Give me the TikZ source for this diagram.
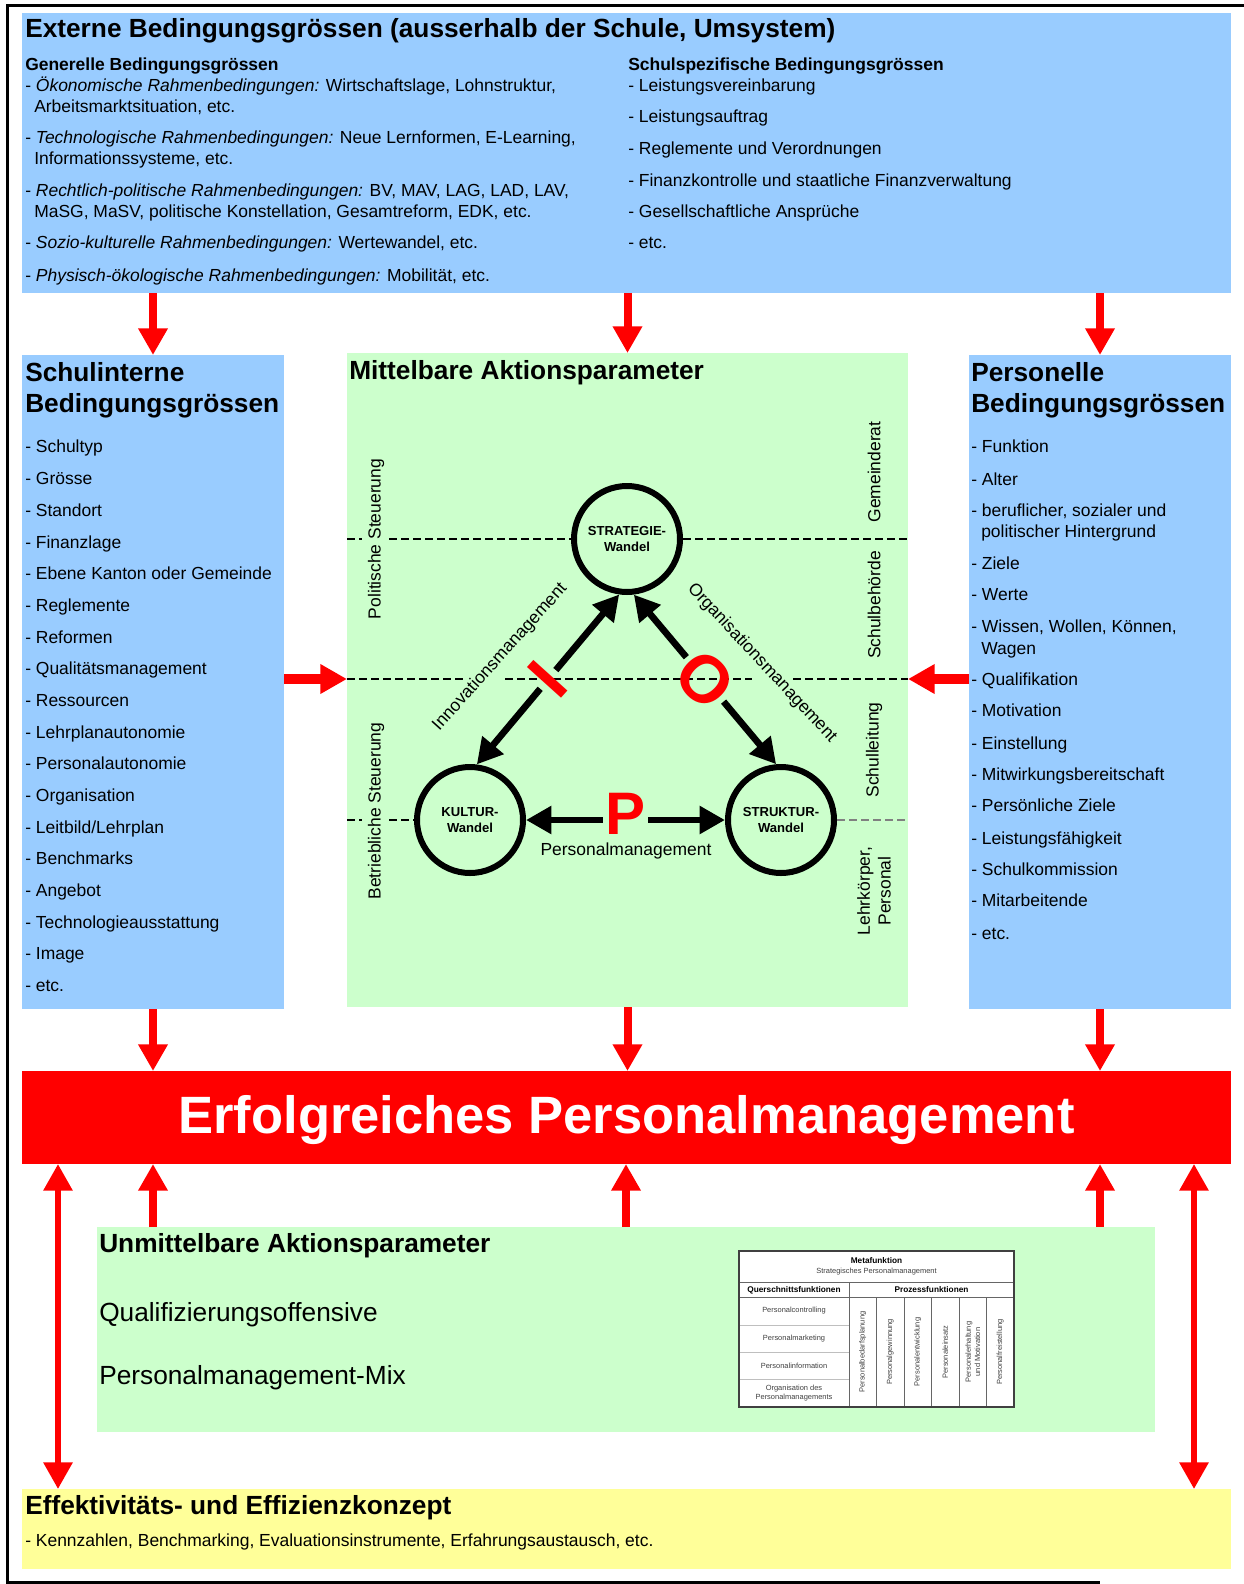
\documentclass[tikz,border=0pt]{standalone}
\usepackage{fontspec}
\setmainfont{Liberation Sans}
\usetikzlibrary{arrows.meta,fit,calc}
\definecolor{bblue}{HTML}{99CCFF}
\definecolor{bgreen}{HTML}{CCFFCC}
\definecolor{byellow}{HTML}{FFFF99}
\definecolor{bred}{HTML}{FF0000}
\newcommand\myhead{\fontsize{19.7pt}{23pt}\selectfont\bfseries}
\newcommand\myheadr{\fontsize{19.7pt}{23pt}\selectfont}
\newcommand\mybody{\fontsize{13.1pt}{15.7pt}\selectfont}
\newcommand\mybodyb{\fontsize{13.1pt}{15.7pt}\selectfont\bfseries}
\newcommand\mycirc{\fontsize{9.8pt}{12pt}\selectfont\bfseries}
\newcommand\myletter{\fontsize{50pt}{50pt}\selectfont\bfseries}
\newcommand\myletterp{\fontsize{45pt}{45pt}\selectfont\bfseries}
\newcommand\mybig{\fontsize{39.4pt}{45pt}\selectfont\bfseries}
\newcommand\mytiny{\fontsize{5.6pt}{7pt}\selectfont}
\newcommand\mytinyb{\fontsize{6.2pt}{7pt}\selectfont\bfseries}
\begin{document}
\begin{tikzpicture}[x=0.75pt,y=-0.75pt,
  area/.style={inner sep=0pt,outer sep=0pt},
  tb/.style={anchor=base west,inner sep=0pt,font=\mybody,yshift=-4.7pt},
  tbb/.style={tb,font=\mybodyb},
  th/.style={anchor=base west,inner sep=0pt,font=\myhead,yshift=-7pt},
  redarr/.style={draw=bred,line width=6pt,-{Triangle[length=20pt,width=21pt]}},
  reddbl/.style={draw=bred,line width=4.5pt,{Triangle[length=20pt,width=21pt]}-{Triangle[length=20pt,width=21pt]}},
  blkarr/.style={line width=5pt,-{Triangle[length=19pt,width=20pt]}},
  wandel/.style={circle,draw,line width=4.5pt,minimum size=79.5pt,inner sep=0pt,font=\mycirc,align=center},
  dl/.style={line width=1.5pt,dash pattern=on 6pt off 3pt},
  vlab/.style={rotate=90,font=\mybody,inner sep=0pt,align=center},
  letter/.style={text=bred,font=\myletter,inner sep=2pt},
  tt/.style={font=\mytiny,text=black!75,inner sep=0pt,align=center},
  ttb/.style={font=\mytinyb,inner sep=0pt,align=center}
]
\useasboundingbox (0,0) rectangle (1244,1584);
\fill[white] (0,0) rectangle (1244,1584);
\draw[line width=2.25pt] (1244,6) -- (7,6) -- (7,1584);
\draw[line width=2.25pt] (7,1582) -- (1100,1582);

% areas
\node[area,fill=bblue,fit={(22,13) (1231,293)}] (ext) {};
\node[area,fill=bblue,fit={(22,355) (284,1009)}] (sch) {};
\node[area,fill=bgreen,fit={(347,353) (908,1007)}] (mit) {};
\node[area,fill=bblue,fit={(969,355) (1231,1009)}] (per) {};
\node[area,fill=bred,fit={(22,1071) (1231,1164)}] (erf) {};
\node[area,fill=bgreen,fit={(97,1227) (1155,1432)}] (unm) {};
\node[area,fill=byellow,fit={(22,1489) (1231,1569)}] (eff) {};

% top box
\node[th] (t0) at (25,28) {Externe Bedingungsgrössen (ausserhalb der Schule, Umsystem)};
\node[tbb] (g0) at (25,64) {Generelle Bedingungsgrössen};
\node[tb] (g1) at (25,85) {- \textit{Ökonomische Rahmenbedingungen:} Wirtschaftslage, Lohnstruktur,};
\node[tb] (g1b) at (34,106) {Arbeitsmarktsituation, etc.};
\node[tb] (g2) at (25,137.5) {- \textit{Technologische Rahmenbedingungen:} Neue Lernformen, E-Learning,};
\node[tb] (g2b) at (34,158.7) {Informationssysteme, etc.};
\node[tb] (g3) at (25,190) {- \textit{Rechtlich-politische Rahmenbedingungen:} BV, MAV, LAG, LAD, LAV,};
\node[tb] (g3b) at (34,211.2) {MaSG, MaSV, politische Konstellation, Gesamtreform, EDK, etc.};
\node[tb] (g4) at (25,242.5) {- \textit{Sozio-kulturelle Rahmenbedingungen:} Wertewandel, etc.};
\node[tb] (g5) at (25,275) {- \textit{Physisch-ökologische Rahmenbedingungen:} Mobilität, etc.};
\node[tbb] (s0) at (628,64) {Schulspezifische Bedingungsgrössen};
\node[tb] (s1) at (628,85) {- Leistungsvereinbarung};
\node[tb] (s2) at (628,116.2) {- Leistungsauftrag};
\node[tb] (s3) at (628,148.6) {- Reglemente und Verordnungen};
\node[tb] (s4) at (628,180) {- Finanzkontrolle und staatliche Finanzverwaltung};
\node[tb] (s5) at (628,211.2) {- Gesellschaftliche Ansprüche};
\node[tb] (s6) at (628,242.5) {- etc.};

% left box
\node[th] (l0) at (25,372) {Schulinterne};
\node[th] (l0b) at (25,403) {Bedingungsgrössen};
\foreach \t [count=\i from 0] in {Schultyp,Grösse,Standort,Finanzlage,Ebene Kanton oder Gemeinde,Reglemente,Reformen,Qualitätsmanagement,Ressourcen,Lehrplanautonomie,Personalautonomie,Organisation,Leitbild/Lehrplan,Benchmarks,Angebot,Technologieausstattung,Image,etc.}
  \node[tb] (li\i) at (25,{446.7+31.68*\i}) {- \t};

% right box
\node[th] (r0) at (971,372) {Personelle};
\node[th] (r0b) at (971,403) {Bedingungsgrössen};
\node[tb] (ri1) at (971,446.7) {- Funktion};
\node[tb] (ri2) at (971,479) {- Alter};
\node[tb] (ri3) at (971,510.4) {- beruflicher, sozialer und};
\node[tb] (ri3b) at (981,531.6) {politischer Hintergrund};
\node[tb] (ri4) at (971,562.9) {- Ziele};
\node[tb] (ri5) at (971,594.2) {- Werte};
\node[tb] (ri6) at (971,626.6) {- Wissen, Wollen, Können,};
\node[tb] (ri6b) at (981,647.8) {Wagen};
\node[tb] (ri7) at (971,679.1) {- Qualifikation};
\node[tb] (ri8) at (971,710.5) {- Motivation};
\node[tb] (ri9) at (971,742.8) {- Einstellung};
\node[tb] (ri10) at (971,774.1) {- Mitwirkungsbereitschaft};
\node[tb] (ri11) at (971,805.4) {- Persönliche Ziele};
\node[tb] (ri12) at (971,837.8) {- Leistungsfähigkeit};
\node[tb] (ri13) at (971,869.1) {- Schulkommission};
\node[tb] (ri14) at (971,900.4) {- Mitarbeitende};
\node[tb] (ri15) at (971,932.8) {- etc.};

% center box
\node[th] (m0) at (349,370) {Mittelbare Aktionsparameter};
\node[wandel] (S) at (627,539) {STRATEGIE-\\Wandel};
\node[wandel] (K) at (470,820) {KULTUR-\\Wandel};
\node[wandel] (T) at (781,820) {STRUKTUR-\\Wandel};

\draw[dl] (347,539) -- (362,539);
\draw[dl] (389,539) -- (S.west);
\draw[dl] (S.east) -- (908,539);
\draw[dl] (347,679) -- (463,679);
\draw[dl] (505,679) -- (752,679);
\draw[dl] (793,679) -- (908,679);
\draw[dl] (347,820) -- (362,820);
\draw[dl] (389,820) -- (K.west);
\draw[dl,draw=black!50,line width=1pt] (T.east) -- (908,820);

\node[vlab] (v1) at (376,539) {Politische Steuerung};
\node[vlab] (v2) at (376,811) {Betriebliche Steuerung};
\node[vlab] (v3) at (874,472) {Gemeinderat};
\node[vlab] (v4) at (874,605) {Schulbehörde};
\node[vlab] (v5) at (874,750) {Schulleitung};
\node[vlab] (v6) at (874,891) {Lehrkörper,\\Personal};

\node[letter,rotate=48] (lI) at ($(K.83)!0.5!(S.262)$) {I};
\node[letter,rotate=-45] (lO) at ($(S.277)!0.5!(T.95)$) {O};
\node[letter,font=\myletterp] (lP) at ($(K.east)!0.5!(T.west)+(0,-6)$) {P};
\draw[blkarr] (lI) -- (S.262);
\draw[blkarr] (lI) -- (K.83);
\draw[blkarr] (lO) -- (S.277);
\draw[blkarr] (lO) -- (T.95);
\draw[blkarr] (lP.west |- K.east) -- (K.east);
\draw[blkarr] (lP.east |- T.west) -- (T.west);

\node[font=\mybody,rotate=48,inner sep=0pt] (inn) at (500,657) {Innovationsmanagement};
\node[font=\mybody,rotate=-47,inner sep=0pt] (org) at (762,663) {Organisationsmanagement};
\node[font=\mybody,inner sep=0pt] (pm) at (626,851) {Personalmanagement};

% red arrows
\draw[redarr] (ext.south -| sch.north) -- (sch.north);
\draw[redarr] (ext.south -| mit.north) -- (mit.north);
\draw[redarr] (ext.south -| per.north) -- (per.north);
\draw[redarr] (sch.south) -- (erf.north -| sch.south);
\draw[redarr] (mit.south) -- (erf.north -| mit.south);
\draw[redarr] (per.south) -- (erf.north -| per.south);
\coordinate (L2) at (0,679);
\draw[redarr,line width=7.5pt] (sch.east |- L2) -- (mit.west |- L2);
\draw[redarr,line width=7.5pt] (per.west |- L2) -- (mit.east |- L2);
\draw[redarr] (unm.north -| sch.south) -- (erf.south -| sch.south);
\draw[redarr] (unm.north) -- (erf.south -| unm.north);
\draw[redarr] (unm.north -| per.south) -- (erf.south -| per.south);
\coordinate (dL) at (58,0);
\coordinate (dR) at (1194,0);
\draw[reddbl] (erf.south -| dL) -- (eff.north -| dL);
\draw[reddbl] (erf.south -| dR) -- (eff.north -| dR);

% red box text
\node[font=\mybig,text=white,inner sep=0pt,yshift=-2pt] (erft) at (erf.center) {Erfolgreiches Personalmanagement};

% bottom
\node[th] (u0) at (99,1243) {Unmittelbare Aktionsparameter};
\node[th,font=\myheadr] (u1) at (99,1312) {Qualifizierungsoffensive};
\node[th,font=\myheadr] (u2) at (99,1375) {Personalmanagement-Mix};
\node[th] (e0) at (25,1505) {Effektivitäts- und Effizienzkonzept};
\node[tb] (e1) at (25,1540) {- Kennzahlen, Benchmarking, Evaluationsinstrumente, Erfahrungsaustausch, etc.};

% table
\fill[white] (739,1251) rectangle (1014,1407);
\draw[black!60,line width=0.6pt] (739,1282) -- (1014,1282) (739,1297) -- (1014,1297) (849,1282) -- (849,1407);
\foreach \xx in {876.5,904,931.5,959,986.5} \draw[black!60,line width=0.6pt] (\xx,1297) -- (\xx,1407);
\foreach \yy in {1325,1352,1379} \draw[black!25,line width=0.6pt] (739,\yy) -- (849,\yy);
\draw[black!75,line width=0.8pt] (739,1251) rectangle (1014,1407);
\node[ttb] (tm) at (876.5,1261) {Metafunktion};
\node[tt] (tm2) at (876.5,1272) {Strategisches Personalmanagement};
\node[ttb] (tq) at (794,1290) {Querschnittsfunktionen};
\node[ttb] (tp) at (931.5,1290) {Prozessfunktionen};
\node[tt] (q1) at (794,1311) {Personalcontrolling};
\node[tt] (q2) at (794,1338.5) {Personalmarketing};
\node[tt] (q3) at (794,1365.5) {Personalinformation};
\node[tt] (q4) at (794,1393) {Organisation des\\Personalmanagements};
\foreach \t [count=\i from 0] in {Personalbedarfsplanung,Personalgewinnung,Personalentwicklung,Personaleinsatz,Personalerhaltung\\und Motivation,Personalfreistellung}
  \node[tt,rotate=90] (p\i) at ({862.75+27.5*\i},1352) {\t};
\end{tikzpicture}
\end{document}
